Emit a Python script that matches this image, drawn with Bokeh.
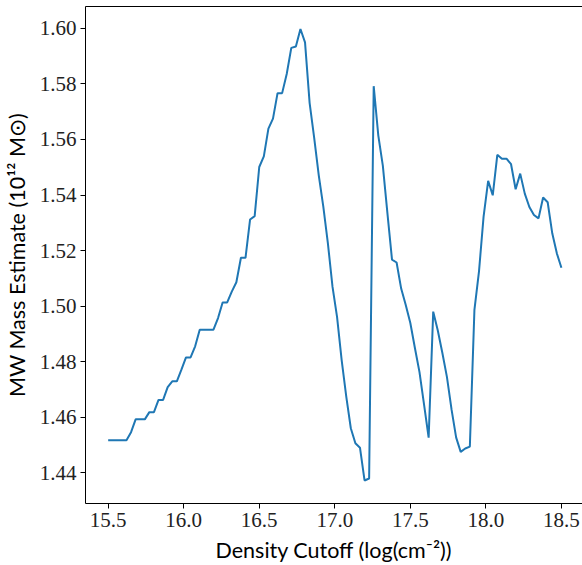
import numpy as np
from bokeh.plotting import figure
from bokeh.models import Range1d, FixedTicker, LinearAxis, PrintfTickFormatter
from bokeh.embed import file_html
from bokeh.resources import INLINE

# x grid: 100 evenly spaced density cutoffs from 15.5 to 18.5
x_start, x_stop, n_points = 15.5, 18.5, 100
density_cutoff = np.linspace(x_start, x_stop, n_points)

mass_estimate = [
    1.4517, 1.4517, 1.4517, 1.4517, 1.4517, 1.4546, 1.4592, 1.4592, 1.4592, 1.4618,
    1.4618, 1.4662, 1.4662, 1.4708, 1.4729, 1.4729, 1.4771, 1.4815, 1.4815, 1.4855,
    1.4915, 1.4915, 1.4915, 1.4915, 1.4957, 1.5013, 1.5013, 1.5052, 1.5086, 1.5174,
    1.5174, 1.5312, 1.5324, 1.5501, 1.5539, 1.5639, 1.5675, 1.5767, 1.5767, 1.5836,
    1.5930, 1.5935, 1.5998, 1.5950, 1.5732, 1.5606, 1.5471, 1.5357, 1.5225, 1.5070,
    1.4960, 1.4805, 1.4675, 1.4560, 1.4506, 1.4490, 1.4372, 1.4379, 1.5792, 1.5615,
    1.5505, 1.5334, 1.5167, 1.5157, 1.5063, 1.5004, 1.4939, 1.4849, 1.4762, 1.4645,
    1.4526, 1.4980, 1.4912, 1.4831, 1.4744, 1.4628, 1.4527, 1.4475, 1.4487, 1.4494,
    1.4986, 1.5125, 1.5322, 1.5451, 1.5399, 1.5545, 1.5531, 1.5531, 1.5511, 1.5421,
    1.5477, 1.5405, 1.5357, 1.5328, 1.5316, 1.5391, 1.5374, 1.5262, 1.5190, 1.5138,
]

x_ticks = [15.5, 16.0, 16.5, 17.0, 17.5, 18.0, 18.5]
y_ticks = [1.44, 1.46, 1.48, 1.50, 1.52, 1.54, 1.56, 1.58, 1.60]

x_label = "Density Cutoff (log(cm⁻²))"
y_label = "MW Mass Estimate (10¹² M⊙)"

p = figure(
    width=582, height=565,
    x_range=Range1d(15.35, 18.6396),
    y_range=Range1d(1.4289, 1.6079),
    output_backend="svg", toolbar_location=None,
    min_border_left=81, min_border_right=0,
    min_border_top=6, min_border_bottom=61,
)
p.grid.visible = False
p.outline_line_color = None
p.background_fill_color = "white"
p.border_fill_color = "white"

p.line(density_cutoff, mass_estimate, line_color="#1f77b4", line_width=2)

tick_font = "'Liberation Serif', serif"
label_font = "Lato"

for ax, ticks, fmt, lab in ((p.xaxis[0], x_ticks, "%.1f", x_label),
                            (p.yaxis[0], y_ticks, "%.2f", y_label)):
    ax.ticker = FixedTicker(ticks=ticks)
    ax.formatter = PrintfTickFormatter(format=fmt)
    ax.major_tick_out = 5
    ax.major_tick_in = 0
    ax.minor_tick_line_color = None
    ax.axis_line_color = "black"
    ax.major_tick_line_color = "black"
    ax.major_label_text_font = tick_font
    ax.major_label_text_font_size = "21px"
    ax.major_label_text_color = "#222222"
    ax.major_label_standoff = 4
    ax.axis_label = lab
    ax.axis_label_text_font = label_font
    ax.axis_label_text_font_size = "21.5px"
    ax.axis_label_text_font_style = "normal"
    ax.axis_label_text_color = "black"
    ax.axis_label_standoff = 7

p.yaxis[0].major_label_orientation = "horizontal"

top = LinearAxis(
    ticker=FixedTicker(ticks=[]),
    major_tick_out=0, major_tick_in=0,
    minor_tick_line_color=None,
    major_label_text_font_size="0px",
    major_label_standoff=0,
    axis_line_color="black",
)
p.add_layout(top, "above")

open("out.html", "w").write(file_html(p, INLINE))
